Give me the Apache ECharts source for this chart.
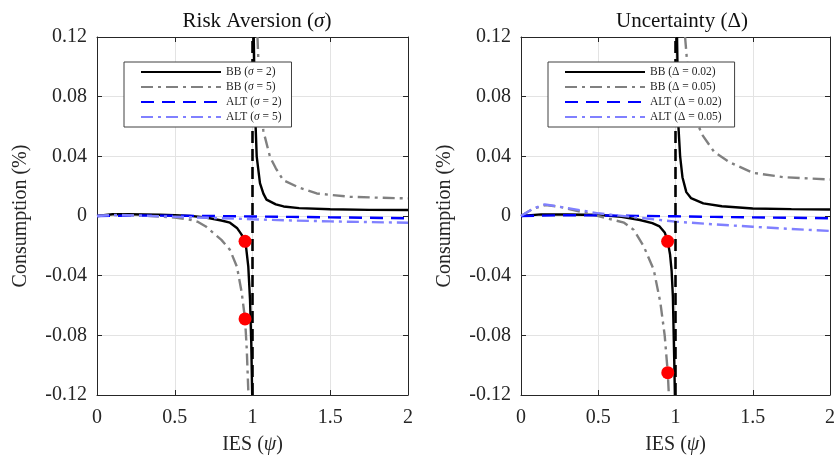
<!DOCTYPE html>
<html>
<head>
<meta charset="utf-8">
<script src="https://cdn.jsdelivr.net/npm/echarts@6/dist/echarts.min.js"></script>
<style>html,body{margin:0;padding:0;background:#fff}#c{width:838px;height:460px}</style>
</head>
<body>
<div id="c"></div>
<script>
// ---------- Data ----------
const xTicks = [0, 0.5, 1, 1.5, 2];
const yTicks = [-0.12, -0.08, -0.04, 0, 0.04, 0.08, 0.12];

// Left panel: Risk Aversion (sigma)
const L_bb2_loX = [0, 0.1, 0.2, 0.3, 0.4, 0.5, 0.6, 0.7, 0.8, 0.855, 0.9, 0.93, 0.952, 0.96, 0.973, 0.984, 0.992, 0.998];
const L_bb2_loY = [0, 0.0012, 0.0012, 0.001, 0.0008, 0.0005, 0.0001, -0.001, -0.003, -0.0045, -0.008, -0.0125, -0.017, -0.022, -0.034, -0.056, -0.085, -0.12];
const L_bb2_hiX = [1.008, 1.015, 1.027, 1.048, 1.07, 1.09, 1.15, 1.2, 1.3, 1.5, 1.75, 2];
const L_bb2_hiY = [0.12, 0.075, 0.04, 0.022, 0.015, 0.011, 0.0078, 0.0064, 0.0053, 0.0045, 0.0041, 0.004];

const L_bb5_loX = [0, 0.1, 0.2, 0.3, 0.4, 0.5, 0.6, 0.65, 0.7, 0.75, 0.8, 0.855, 0.9, 0.93, 0.952, 0.963, 0.974];
const L_bb5_loY = [0, 0.0008, 0.0006, 0.0002, -0.0003, -0.001, -0.0025, -0.004, -0.007, -0.0115, -0.016, -0.0227, -0.034, -0.051, -0.069, -0.089, -0.12];
const L_bb5_hiX = [1.032, 1.045, 1.07, 1.113, 1.15, 1.198, 1.3, 1.413, 1.5, 1.627, 1.8, 2];
const L_bb5_hiY = [0.12, 0.085, 0.057, 0.0395, 0.032, 0.024, 0.019, 0.0151, 0.0142, 0.0129, 0.0123, 0.0118];

const L_alt2X = [0, 0.25, 0.5, 0.75, 1, 1.25, 1.5, 1.75, 2];
const L_alt2Y = [0, 0.0003, 0.0002, 0, -0.0003, -0.0006, -0.0009, -0.0012, -0.0015];
const L_alt5X = [0, 0.1, 0.25, 0.5, 0.75, 1, 1.25, 1.5, 1.75, 2];
const L_alt5Y = [0, 0.0006, 0.0003, -0.0005, -0.0013, -0.0022, -0.003, -0.0036, -0.0041, -0.0045];

const L_dotsX = [0.952, 0.952];
const L_dotsY = [-0.017, -0.069];

// Right panel: Uncertainty (Delta)
const R_bb2_loX = [0, 0.13, 0.3, 0.513, 0.65, 0.77, 0.85, 0.897, 0.93, 0.949, 0.965, 0.975, 0.983, 0.992, 0.996];
const R_bb2_loY = [0, 0.0011, 0.001, 0.0007, -0.0005, -0.0027, -0.0048, -0.007, -0.011, -0.0165, -0.026, -0.037, -0.054, -0.098, -0.12];
const R_bb2_hiX = [1.01, 1.019, 1.03, 1.045, 1.07, 1.1, 1.18, 1.3, 1.5, 1.75, 2];
const R_bb2_hiY = [0.12, 0.06, 0.04, 0.026, 0.016, 0.012, 0.0085, 0.0065, 0.005, 0.0046, 0.0044];

const R_bb5_loX = [0, 0.08, 0.16, 0.25, 0.385, 0.556, 0.667, 0.73, 0.795, 0.859, 0.902, 0.93, 0.95, 0.957];
const R_bb5_loY = [0, 0.005, 0.0073, 0.0062, 0.0029, -0.0015, -0.0045, -0.0093, -0.0205, -0.036, -0.058, -0.08, -0.105, -0.12];
const R_bb5_hiX = [1.062, 1.08, 1.1, 1.13, 1.169, 1.25, 1.35, 1.5, 1.7, 2];
const R_bb5_hiY = [0.12, 0.097, 0.08, 0.066, 0.055, 0.043, 0.036, 0.029, 0.026, 0.0245];

const R_alt2X = [0, 0.25, 0.5, 0.75, 1, 1.25, 1.5, 1.75, 2];
const R_alt2Y = [0, 0.0005, 0.0004, 0.0001, -0.0002, -0.0006, -0.0009, -0.0012, -0.0015];
const R_alt5X = [0, 0.08, 0.154, 0.25, 0.5, 0.75, 1, 1.25, 1.5, 1.75, 2];
const R_alt5Y = [0, 0.005, 0.0078, 0.0062, 0.0018, -0.001, -0.0038, -0.0056, -0.0072, -0.0087, -0.01];

const R_dotsX = [0.949, 0.95];
const R_dotsY = [-0.017, -0.105];

const vlineX = [1, 1];
const vlineY = [-0.12, 0.12];

const leftNames = ['BB (σ = 2)', 'BB (σ = 5)', 'ALT (σ = 2)', 'ALT (σ = 5)'];
const rightNames = ['BB (Δ = 0.02)', 'BB (Δ = 0.05)', 'ALT (Δ = 0.02)', 'ALT (Δ = 0.05)'];

// ---------- Build ----------
const FONT = 'Liberation Serif';
const pairs = (xs, ys) => xs.map((x, i) => [x, ys[i]]);
const branch = (xa, ya, xb, yb) => pairs(xa, ya).concat([[1, '-']], pairs(xb, yb));

const styles = [
  {color: '#000000', type: 'solid'},
  {color: '#808080', type: [12, 5, 3, 5]},
  {color: '#0000ff', type: [13, 8]},
  {color: '#8080ff', type: [12, 5, 3, 5]}
];

function lineSeries(name, data, idx, st) {
  return {
    type: 'line', name, data, xAxisIndex: idx, yAxisIndex: idx,
    showSymbol: false, symbol: 'none', connectNulls: false, clip: true,
    lineStyle: {color: st.color, width: 2.4, type: st.type},
    itemStyle: {color: st.color}, animation: false, z: 3
  };
}

const grids = [
  {left: 97, top: 37, width: 311, height: 360},
  {left: 521, top: 37, width: 312, height: 360}
];

function xAx(gi, pos, show) {
  return {
    type: 'value', gridIndex: gi, position: pos, min: 0, max: 2, interval: 0.5,
    axisLine: {show: true, onZero: false, lineStyle: {color: '#262626', width: 1}},
    axisTick: {show: true, inside: true, length: 5, lineStyle: {color: '#262626'}},
    axisLabel: {show: show, margin: 13, fontFamily: FONT, fontSize: 20, color: '#262626'},
    splitLine: {show: show, lineStyle: {color: '#e3e3e3', width: 1}},
    name: show ? '{n|IES (}{i|ψ}{n|)}' : '', nameLocation: 'middle', nameGap: 40,
    nameTextStyle: {rich: {n: {fontFamily: FONT, fontSize: 20, color: '#262626'},
                           i: {fontFamily: FONT, fontSize: 20, fontStyle: 'italic', color: '#262626'}}}
  };
}
function yAx(gi, pos, show) {
  return {
    type: 'value', gridIndex: gi, position: pos, min: -0.12, max: 0.12, interval: 0.04,
    axisLine: {show: true, onZero: false, lineStyle: {color: '#262626', width: 1}},
    axisTick: {show: true, inside: true, length: 5, lineStyle: {color: '#262626'}},
    axisLabel: {show: show, margin: 10, fontFamily: FONT, fontSize: 20, color: '#262626',
                formatter: v => String(Math.round(v * 100) / 100)},
    splitLine: {show: show, lineStyle: {color: '#e3e3e3', width: 1}},
    name: show ? 'Consumption (%)' : '', nameLocation: 'middle', nameGap: 66,
    nameTextStyle: {fontFamily: FONT, fontSize: 20, color: '#262626'}
  };
}

const series = [];
const panels = [
  {names: leftNames, bb2: branch(L_bb2_loX, L_bb2_loY, L_bb2_hiX, L_bb2_hiY),
   bb5: branch(L_bb5_loX, L_bb5_loY, L_bb5_hiX, L_bb5_hiY),
   alt2: pairs(L_alt2X, L_alt2Y), alt5: pairs(L_alt5X, L_alt5Y), dots: pairs(L_dotsX, L_dotsY)},
  {names: rightNames, bb2: branch(R_bb2_loX, R_bb2_loY, R_bb2_hiX, R_bb2_hiY),
   bb5: branch(R_bb5_loX, R_bb5_loY, R_bb5_hiX, R_bb5_hiY),
   alt2: pairs(R_alt2X, R_alt2Y), alt5: pairs(R_alt5X, R_alt5Y), dots: pairs(R_dotsX, R_dotsY)}
];
panels.forEach((p, i) => {
  series.push(lineSeries(p.names[0], p.bb2, i, styles[0]));
  series.push(lineSeries(p.names[1], p.bb5, i, styles[1]));
  series.push(lineSeries(p.names[2], p.alt2, i, styles[2]));
  series.push(lineSeries(p.names[3], p.alt5, i, styles[3]));
  series.push({type: 'line', name: 'vline' + i, data: pairs(vlineX, vlineY), xAxisIndex: i, yAxisIndex: i,
    symbol: 'none', lineStyle: {color: '#000', width: 2.6, type: [12, 6]}, animation: false, z: 4});
  series.push({type: 'scatter', name: 'dots' + i, data: p.dots, xAxisIndex: i, yAxisIndex: i,
    symbol: 'circle', symbolSize: 13, itemStyle: {color: '#ff0000', opacity: 1}, animation: false, z: 5});
});

const legendBase = {
  orient: 'vertical', backgroundColor: '#fff', borderColor: '#404040', borderWidth: 1,
  borderRadius: 0, itemWidth: 80, itemHeight: 10, itemGap: 3, top: 62, z: 20,
  padding: [4, 8, 4, 16], selectedMode: false,
  itemStyle: {opacity: 0},
  formatter: n => '{n|' + n.replace(/([σ])/, '}{i|$1}{n|') + '}',
  textStyle: {fontFamily: FONT, fontSize: 11.5, color: '#262626',
              rich: {n: {fontFamily: FONT, fontSize: 11.5, color: '#262626'},
                     i: {fontFamily: FONT, fontSize: 11.5, fontStyle: 'italic', color: '#262626'}}}
};

const option = {
  backgroundColor: '#fff',
  animation: false,
  title: [
    {text: '{n|Risk Aversion (}{i|σ}{n|)}', left: 252, top: 6, textAlign: 'center',
     textStyle: {fontWeight: 'normal',
                 rich: {n: {fontFamily: FONT, fontSize: 21, fontWeight: 'normal', color: '#111'},
                        i: {fontFamily: FONT, fontSize: 21, fontWeight: 'normal', fontStyle: 'italic', color: '#111'}}}},
    {text: 'Uncertainty (Δ)', left: 677, top: 6, textAlign: 'center',
     textStyle: {fontFamily: FONT, fontSize: 21, fontWeight: 'normal', color: '#111'}}
  ],
  grid: grids,
  xAxis: [xAx(0, 'bottom', true), xAx(1, 'bottom', true), xAx(0, 'top', false), xAx(1, 'top', false)],
  yAxis: [yAx(0, 'left', true), yAx(1, 'left', true), yAx(0, 'right', false), yAx(1, 'right', false)],
  legend: [
    Object.assign({}, legendBase, {left: 124, data: leftNames, padding: [4, 10, 4, 16]}),
    Object.assign({}, legendBase, {left: 548, data: rightNames, padding: [4, 13, 4, 16]})
  ],
  series
};

const chart = echarts.init(document.getElementById('c'), null, {renderer: 'canvas'});
chart.setOption(option);
</script>
</body>
</html>
